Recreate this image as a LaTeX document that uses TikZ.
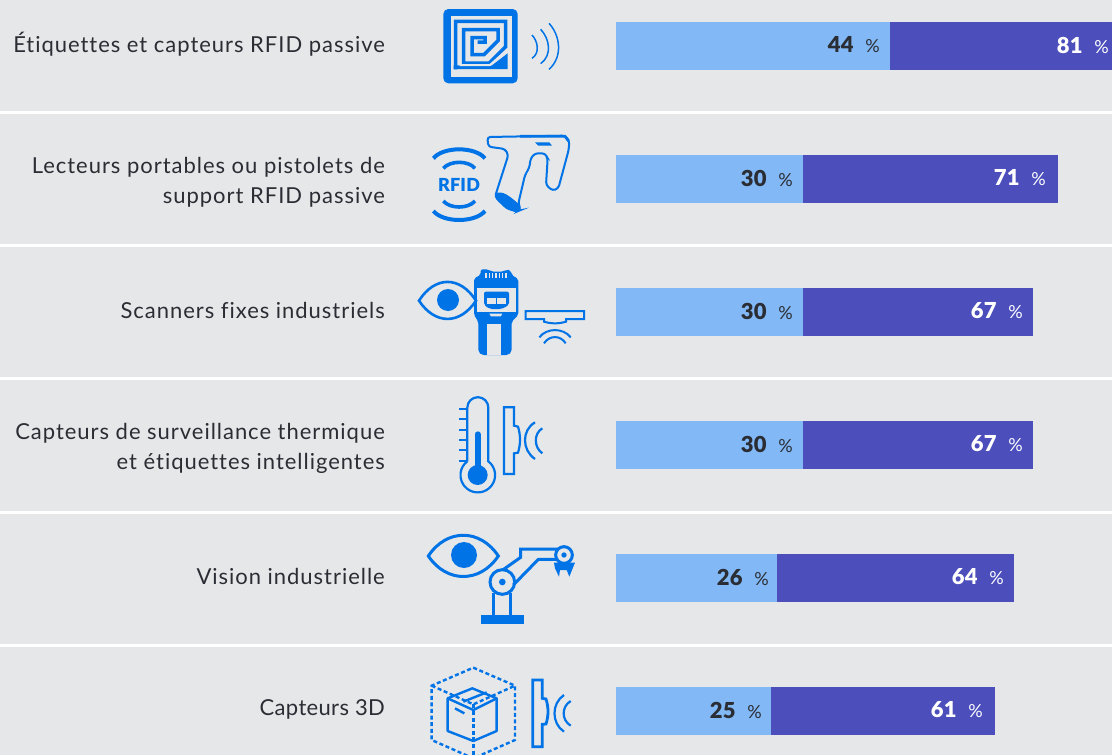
\documentclass[tikz,border=0pt]{standalone}
\usepackage{fontspec}
\setmainfont[LetterSpace=4.4,Ligatures={NoCommon,NoRare}]{Lato}
\newfontfamily\numfont{Lato}[BoldFont={Lato Black},LetterSpace=1]
\definecolor{bgc}{HTML}{E6E7E9}
\definecolor{icon}{HTML}{0073E6}
\definecolor{lightbar}{HTML}{82B8F5}
\definecolor{darkbar}{HTML}{4B4EBB}
\definecolor{ink}{HTML}{2A2D33}
\tikzset{
 rowlabel/.style={anchor=east,align=right,text=ink,font=\fontsize{22}{29.5}\selectfont,inner sep=0pt},
 pct/.style={anchor=east,inner sep=0pt,text=#1},
 sep/.style={white,line width=3pt}
}
\newcommand{\pctt}[2]{{\numfont\fontsize{22}{22}\selectfont\textbf{#1}\hspace{11.5pt}\fontsize{18}{18}\selectfont #2}}
\newcommand{\barrow}[8]{% y, xsplit, xend, v1, v2, x1text, x2text, id
 \fill[lightbar] (616,#1) rectangle (#2,#1+48);
 \fill[darkbar] (#2,#1) rectangle (#3,#1+48);
 \node[pct=ink] (a#8) at (#6,#1+23) {\pctt{#4}{\%}};
 \node[pct=white] (b#8) at (#7,#1+23) {\pctt{#5}{\%}};
}
\begin{document}
\begin{tikzpicture}[x=1pt,y=-1pt]
\useasboundingbox (0,0) rectangle (1112,755);
\clip (0,0) rectangle (1112,755);
\fill[bgc] (0,0) rectangle (1112,755);
\foreach \yy in {112.5,245.5,378.5,512,645}{\draw[sep] (0,\yy) -- (1112,\yy);}
\node[rowlabel] (l1) at (385,44) {Étiquettes et capteurs RFID passive};
\node[rowlabel] (l2) at (385,182.5) {Lecteurs portables ou pistolets de\\support RFID passive};
\node[rowlabel] (l3) at (385,310) {Scanners fixes industriels};
\node[rowlabel] (l4) at (385,448.5) {Capteurs de surveillance thermique\\et étiquettes intelligentes};
\node[rowlabel] (l5) at (385,576) {Vision industrielle};
\node[rowlabel] (l6) at (385,709) {\addfontfeature{LetterSpace=1.5}Capteurs 3D};
\barrow{22}{890}{1112}{44}{81}{880}{1109}{1}
\barrow{155}{803}{1058}{30}{71}{793}{1046}{2}
\barrow{288}{803}{1033}{30}{67}{793}{1023}{3}
\barrow{421}{803}{1033}{30}{67}{793}{1023}{4}
\barrow{554}{777}{1014}{26}{64}{769}{1004}{5}
\barrow{687}{771}{995}{25}{61}{762}{983}{6}
% icon 1
\begin{scope}[shift={(410,0)},scale=1/3]
\fill[icon,rounded corners=5pt] (100,27) rectangle (323,250);
\fill[bgc] (122,47) rectangle (305,232);
\draw[icon,line width=3.5pt] (137,208) -- (137,64) -- (287,64) -- (287,140) -- (238,189) -- (161,189) -- (161,89) -- (264,89) -- (264,122) -- (222,164) -- (186,164) -- (186,113) -- (225,113) -- (225,126) -- (203,126);
\fill[icon] (131,196) -- (246,196) -- (293,160) -- (293,207) -- (131,207) -- cycle;
\draw[bgc,line width=2pt] (149,195) -- (240,195) -- (293,148);
\draw[icon,line width=1.5pt] (366,105) .. controls (382,122) and (392,158) .. (366,175);
\draw[icon,line width=1.5pt] (392,88) .. controls (418,115) and (428,165) .. (392,191);
\draw[icon,line width=1.5pt] (417,70) .. controls (450,105) and (460,170) .. (417,208);
\end{scope}
% icon 2
\begin{scope}[shift={(410,125)},scale=1/3]
\draw[icon,line width=4pt] (70,100) .. controls (100,64) and (195,64) .. (225,100);
\draw[icon,line width=3.6pt] (100,130) .. controls (120,106) and (175,106) .. (195,130);
\draw[icon,line width=3.6pt] (100,228) .. controls (120,252) and (175,252) .. (195,228);
\draw[icon,line width=4pt] (70,258) .. controls (100,294) and (195,294) .. (225,258);
\node[text=icon,inner sep=0pt,font=\numfont\bfseries\fontsize{18}{18}\selectfont] (rfid) at (147,180) {RFID};
\draw[icon,line width=2pt,rounded corners=3pt] (232,36) -- (465,32) -- (478,48) -- (476,75) -- (445,190) -- (428,197) -- (408,180) -- (413,100) -- (405,85) -- (375,85) -- (362,100) -- (358,128) -- (345,150) -- (325,235) -- (332,255) -- (320,260) -- (290,250) -- (255,215) -- (295,90) -- (285,72) -- (235,65) -- cycle;
\fill[icon] (255,205) .. controls (280,195) and (300,215) .. (330,240) -- (332,258) -- (300,255) -- (265,230) -- cycle;
\fill[icon] (375,52) -- (418,52) -- (426,62) -- (385,62) -- cycle;
\draw[icon,line width=2.8pt] (330,34) -- (465,34) -- (476,48);
\end{scope}
% icon 3
\begin{scope}[shift={(410,255)},scale=1/3]
\fill[icon,rounded corners=2pt] (212,43) -- (235,43) -- (245,50) -- (280,50) -- (290,43) -- (303,47) -- (305,60) -- (325,72) -- (325,180) -- (305,200) -- (305,290) -- (295,300) -- (215,300) -- (205,290) -- (205,200) -- (192,180) -- (192,70) -- (212,60) -- cycle;
\fill[bgc] (200,100) rectangle (318,170);
\fill[bgc] (231,207) rectangle (272,300);
\fill[bgc] (238,176) -- (277,176) -- (272,184) -- (243,184) -- cycle;
\foreach \xx in {226,236,246,256,266,276,286}{\fill[bgc] (\xx,55) rectangle (\xx+4,69);}
\fill[icon,rounded corners=2pt] (222,110) -- (297,110) -- (297,150) -- (275,162) -- (240,162) -- (222,150) -- cycle;
\fill[bgc] (230,128) rectangle (257,148);
\fill[bgc] (262,128) rectangle (288,148);
\path[fill=bgc,draw=icon,line width=2.6pt] (27,137) .. controls (75,62) and (150,62) .. (198,137) .. controls (150,210) and (75,210) .. (27,137) -- cycle;
\fill[icon] (114,135) circle (33);
\draw[icon,line width=2pt] (347,168) -- (522,168) -- (522,192) -- (468,192) -- (468,200) .. controls (445,207) and (425,207) .. (402,200) -- (402,192) -- (347,192) -- cycle;
\draw[icon,line width=2pt] (388,247) .. controls (410,218) and (460,218) .. (482,247);
\draw[icon,line width=2pt] (402,265) .. controls (418,240) and (452,240) .. (467,265);
\end{scope}
% icon 4
\begin{scope}[shift={(430,385)},scale=1/3]
\draw[icon,line width=2.2pt] (112,229) -- (112,68) arc[start angle=180,end angle=360,radius=31.5] -- (175,229) arc[start angle=-52.5,end angle=232.5,radius=52];
\draw[icon,line width=6pt,line cap=round] (143,148) -- (143,250);
\fill[icon] (143,270) circle (30);
\foreach \yy in {72,103,134,165,196,227}{\draw[icon,line width=2.2pt] (88,\yy) -- (112,\yy);}
\draw[icon,line width=2.2pt] (222,67) -- (252,67) -- (252,122) -- (264,125) .. controls (272,150) and (272,178) .. (264,203) -- (252,205) -- (252,267) -- (222,267) -- cycle;
\draw[icon,line width=2.2pt] (315,112) .. controls (275,135) and (275,195) .. (315,222);
\draw[icon,line width=2.2pt] (337,130) .. controls (311,145) and (311,187) .. (337,205);
\end{scope}
% icon 5
\begin{scope}[shift={(410,520)},scale=1/3]
\draw[icon,line width=3pt] (55,108) .. controls (110,25) and (210,25) .. (265,108) .. controls (210,190) and (110,190) .. (55,108) -- cycle;
\fill[icon] (162,105) circle (39);
\fill[icon] (213,285) rectangle (342,312);
\draw[icon,line width=3pt] (250,285) -- (250,220) (300,285) -- (300,220);
\draw[icon,line width=3pt] (277,186) circle (37);
\fill[icon] (277,186) circle (10);
\draw[icon,line width=3pt] (278,150) -- (332,112) -- (332,87) -- (445,87);
\draw[icon,line width=3pt] (310,195) -- (385,118) -- (440,118);
\draw[icon,line width=3pt] (462,105) circle (25);
\fill[icon] (462,105) circle (8);
\fill[icon] (432,128) -- (495,128) -- (488,145) -- (478,170) -- (470,150) -- (450,150) -- (447,170) -- (435,145) -- cycle;
\end{scope}
% icon 6
\begin{scope}[shift={(410,655)},scale=1/3]
\draw[icon,line width=2.4pt,dash pattern=on 4pt off 2.6pt] (190,38) -- (315,92) -- (315,255) -- (190,310) -- (65,255) -- (65,92) -- cycle;
\draw[icon,line width=2.4pt,dash pattern=on 4pt off 2.6pt] (65,92) -- (190,148) -- (315,92);
\draw[icon,line width=2.4pt,dash pattern=on 4pt off 2.6pt] (190,148) -- (190,310);
\draw[icon,line width=2.4pt,line join=round] (187,100) -- (260,130) -- (260,228) -- (190,258) -- (113,228) -- (113,130) -- cycle;
\draw[icon,line width=2.4pt] (113,130) -- (190,165) -- (260,130);
\draw[icon,line width=2.4pt] (160,140) -- (230,112);
\draw[icon,line width=2.4pt] (135,160) -- (163,175);
\draw[icon,line width=2.8pt] (368,75) -- (397,75) -- (397,130) -- (408,132) .. controls (416,157) and (416,182) .. (408,207) -- (397,208) -- (397,275) -- (368,275) -- cycle;
\draw[icon,line width=2.2pt] (462,120) .. controls (424,145) and (424,205) .. (462,230);
\draw[icon,line width=2.2pt] (482,138) .. controls (454,155) and (454,195) .. (482,212);
\end{scope}
\end{tikzpicture}
\end{document}
